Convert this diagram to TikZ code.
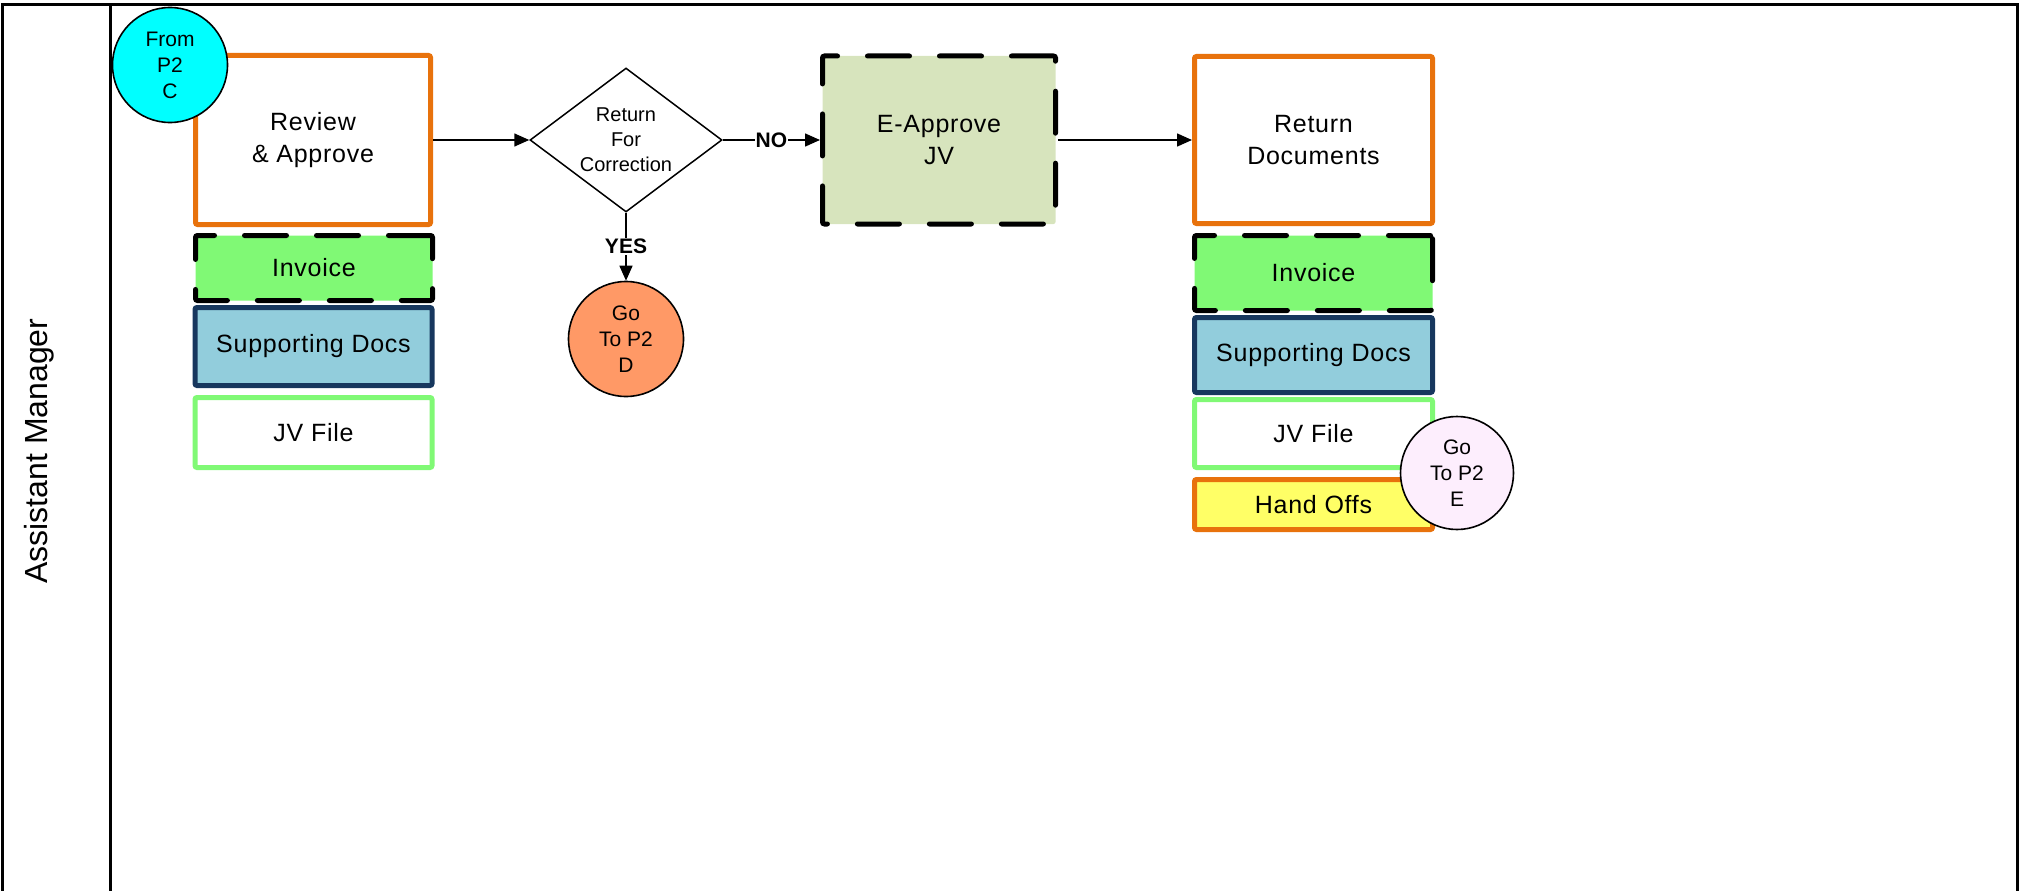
\documentclass[tikz,border=0pt]{standalone}
\usepackage{fontspec}
\setmainfont{Liberation Sans}
\newfontfamily\spacedfont[LetterSpace=3]{Liberation Sans}
\usetikzlibrary{shapes.geometric,arrows.meta}
\definecolor{orng}{HTML}{E8720C}
\definecolor{invgreen}{HTML}{80F975}
\definecolor{suppblue}{HTML}{92CDDC}
\definecolor{navy}{HTML}{17375E}
\definecolor{eappr}{HTML}{D7E4BD}
\definecolor{hand}{HTML}{FFFF66}
\definecolor{gocyan}{HTML}{00FFFF}
\definecolor{gosalmon}{HTML}{FF9966}
\definecolor{gopink}{HTML}{FDEEFD}
\tikzset{
  fbig/.style={font=\spacedfont\fontsize{25}{32}\selectfont},
  fsmall/.style={font=\fontsize{21}{26}\selectfont},
  boxbase/.style={rectangle, inner sep=0pt, align=center, rounded corners=2pt, line width=5pt},
  procbox/.style={boxbase, draw=orng, fill=white, fbig},
  dashbox/.style={boxbase, draw=black, dash pattern=on 42pt off 30pt, line cap=round, fbig},
  suppbox/.style={boxbase, draw=navy, fill=suppblue, fbig},
  jvbox/.style={boxbase, draw=invgreen, fill=white, fbig},
  handbox/.style={boxbase, draw=orng, fill=hand, fbig},
  offpage/.style={circle, draw=black, line width=1.6pt, minimum size=115pt, inner sep=0pt, align=center, fsmall},
  arr/.style={line width=1.5pt, -{Triangle[length=15pt,width=13pt]}},
  cond/.style={font=\fontsize{21}{24}\selectfont\bfseries, fill=white, inner sep=1pt}
}
\begin{document}
\begin{tikzpicture}[x=1pt,y=-1pt]
\useasboundingbox (0,0) rectangle (2019,891);
% lane frame
\draw[line width=3pt] (2,891) -- (2,5) -- (2017,5) -- (2017,891);
\draw[line width=3pt] (110,5) -- (110,891);
\node[rotate=90, font=\fontsize{32}{36}\selectfont] (lane) at (39,451) {Assistant Manager};

% left column
\node[procbox, minimum width=235pt, minimum height=169pt] (rev) at (313,140) {Review\\\& Approve};
\node[dashbox, fill=invgreen, minimum width=237pt, minimum height=65pt] (invL) at (314,268) {Invoice};
\node[suppbox, minimum width=237pt, minimum height=78pt] (supL) at (313.5,346.5) {Supporting Docs};
\node[jvbox, minimum width=237pt, minimum height=70pt] (jvL) at (313.5,432.5) {JV File};
\node[offpage, fill=gocyan] (from) at (170,65) {From\\P2\\C};

% decision
\node[diamond, draw=black, line width=1.5pt, minimum width=192pt, minimum height=144pt, inner sep=0pt] (dia) at (626,140) {};
\node[align=center, font=\fontsize{20}{25}\selectfont] (diatext) at (dia.center) {Return\\For\\Correction};
\node[offpage, fill=gosalmon] (goD) at (626,339) {Go\\To P2\\D};

% e-approve
\node[dashbox, fill=eappr, minimum width=233pt, minimum height=168pt] (eap) at (939,140) {E-Approve\\JV};

% right column
\node[procbox, minimum width=238pt, minimum height=167pt] (ret) at (1313.5,140) {Return\\Documents};
\node[dashbox, fill=invgreen, minimum width=238pt, minimum height=75pt] (invR) at (1313.5,273) {Invoice};
\node[suppbox, minimum width=238pt, minimum height=75pt] (supR) at (1313.5,355) {Supporting Docs};
\node[jvbox, minimum width=238pt, minimum height=68pt] (jvR) at (1313.5,433.5) {JV File};
\node[handbox, minimum width=238pt, minimum height=50pt] (hand) at (1313.5,504.5) {Hand Offs};
\node[offpage, fill=gopink, minimum size=113pt] (goE) at (1457,473) {Go\\To P2\\E};

% connectors
\draw[arr] (rev.east) -- (dia.west);
\draw[arr] (dia.east) -- node[cond] {NO} (eap.west);
\draw[arr] (dia.south) -- node[cond] {YES} (goD.north);
\draw[arr] (eap.east) -- (ret.west);
\end{tikzpicture}
\end{document}
